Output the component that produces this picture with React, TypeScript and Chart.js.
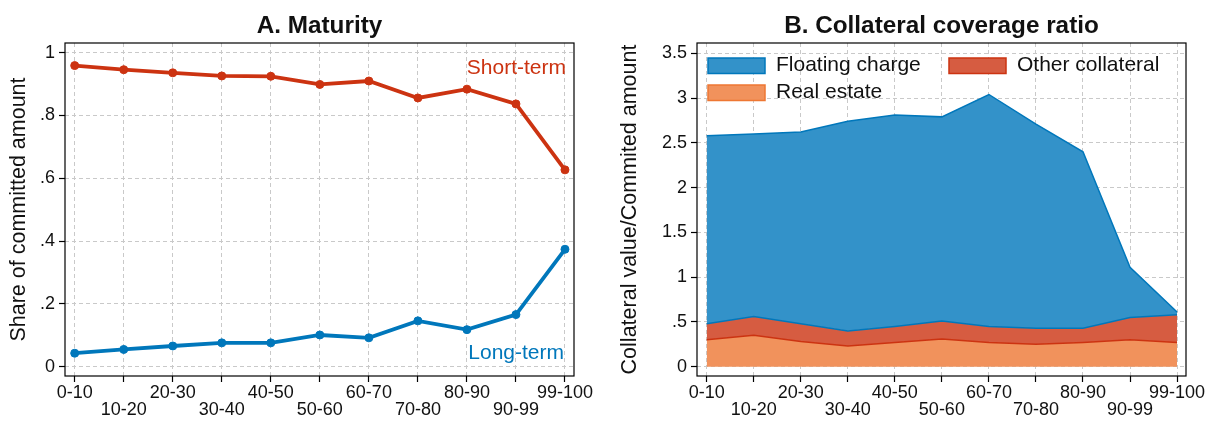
import React, { useEffect, useRef } from 'react';
import { Chart, registerables } from 'chart.js';

Chart.register(...registerables);

const FONT = '"Liberation Sans", Arial, Helvetica, sans-serif';
const TEXT = '#111111';
const GRID = '#c9c9c9';

const RED = '#CC3311';
const BLUE = '#0077BB';
const ORANGE = '#EE7733';
const BLUE_FILL = '#3392C9';
const RED_FILL = '#D65C41';
const ORANGE_FILL = '#F1925C';

// Percentile groups of firms (x axis of both panels)
const percentileGroups = ['0-10', '10-20', '20-30', '30-40', '40-50', '50-60', '60-70', '70-80', '80-90', '90-99', '99-100'];

// Panel A: share of committed amount by maturity
const shortTermShare = [0.959, 0.946, 0.936, 0.926, 0.925, 0.899, 0.91, 0.856, 0.884, 0.837, 0.627];
const longTermShare = [0.043, 0.055, 0.066, 0.076, 0.076, 0.101, 0.092, 0.146, 0.118, 0.166, 0.374];

// Panel B: collateral value / committed amount, by collateral type (stacked)
const realEstate = [0.3, 0.35, 0.28, 0.23, 0.27, 0.31, 0.27, 0.25, 0.27, 0.3, 0.27];
const otherCollateral = [0.18, 0.21, 0.2, 0.17, 0.18, 0.2, 0.18, 0.18, 0.16, 0.25, 0.31];
const floatingCharge = [2.1, 2.04, 2.14, 2.34, 2.36, 2.28, 2.59, 2.28, 1.97, 0.56, 0.03];

const shareTicks = [0, 0.2, 0.4, 0.6, 0.8, 1];
const coverageTicks = [0, 0.5, 1, 1.5, 2, 2.5, 3, 3.5];

const fmtTick = (v: number) => (v === 0 ? '0' : String(+v.toFixed(2)).replace(/^0\./, '.'));

// Alternate the group labels between two rows
const groupLabel = (v: number) => {
  const i = Math.round(v);
  const s = percentileGroups[i] ?? '';
  return i % 2 === 0 ? [s] : ['', s];
};

const gridOpts = {
  color: GRID,
  lineWidth: 1,
  borderDash: [4, 3],
  tickLength: 6,
  tickColor: '#000000',
  tickWidth: 1.2,
  tickBorderDash: [],
};

function makeXScale(min: number, max: number) {
  return {
    type: 'linear',
    min,
    max,
    afterBuildTicks: (s: any) => {
      s.ticks = percentileGroups.map((_, i) => ({ value: i }));
    },
    afterFit: (s: any) => {
      s.height = 45;
    },
    grid: gridOpts,
    border: { display: false, dash: [4, 3] },
    ticks: {
      autoSkip: false,
      maxRotation: 0,
      minRotation: 0,
      padding: 3,
      color: TEXT,
      font: { family: FONT, size: 18, lineHeight: '16.5px' },
      callback: (v: number) => groupLabel(v),
    },
  };
}

function makeYScale(min: number, max: number, ticks: number[], width: number, title: string, titlePad: number) {
  return {
    type: 'linear',
    min,
    max,
    afterBuildTicks: (s: any) => {
      s.ticks = ticks.map((v) => ({ value: v }));
    },
    afterFit: (s: any) => {
      s.width = width;
    },
    grid: gridOpts,
    border: { display: false, dash: [4, 3] },
    ticks: {
      padding: 4,
      color: TEXT,
      font: { family: FONT, size: 18 },
      callback: (v: number) => fmtTick(v),
    },
    title: {
      display: true,
      text: title,
      color: TEXT,
      font: { family: FONT, size: 21.5 },
      padding: { top: titlePad, bottom: 0 },
    },
  };
}

// Frame around the plot region and the panel title above it
function framePlugin(title: string) {
  return {
    id: 'frameAndTitle',
    afterDraw(chart: any) {
      const { ctx, chartArea } = chart;
      ctx.save();
      ctx.strokeStyle = '#000000';
      ctx.lineWidth = 1.2;
      ctx.setLineDash([]);
      ctx.strokeRect(chartArea.left, chartArea.top, chartArea.right - chartArea.left, chartArea.bottom - chartArea.top);
      ctx.fillStyle = TEXT;
      ctx.font = `bold 24.3px ${FONT}`;
      ctx.textAlign = 'center';
      ctx.textBaseline = 'alphabetic';
      ctx.fillText(title, (chartArea.left + chartArea.right) / 2, 32.7);
      ctx.restore();
    },
  };
}

// Series names written next to the lines in panel A
const seriesNamePlugin = {
  id: 'seriesNames',
  afterDraw(chart: any) {
    const { ctx, chartArea } = chart;
    ctx.save();
    ctx.font = `21px ${FONT}`;
    ctx.textAlign = 'right';
    ctx.textBaseline = 'alphabetic';
    ctx.fillStyle = RED;
    ctx.fillText('Short-term', chartArea.right - 8, chartArea.top + 31);
    ctx.fillStyle = BLUE;
    ctx.fillText('Long-term', chartArea.right - 10, chartArea.bottom - 17);
    ctx.restore();
  },
};

// Two-column legend inside panel B
const legendItems = [
  { text: 'Floating charge', fill: BLUE_FILL, edge: BLUE, col: 0, row: 0 },
  { text: 'Other collateral', fill: RED_FILL, edge: RED, col: 1, row: 0 },
  { text: 'Real estate', fill: ORANGE_FILL, edge: ORANGE, col: 0, row: 1 },
];

const areaLegendPlugin = {
  id: 'areaLegend',
  afterDraw(chart: any) {
    const { ctx, chartArea } = chart;
    ctx.save();
    ctx.font = `21px ${FONT}`;
    ctx.textAlign = 'left';
    ctx.textBaseline = 'middle';
    for (const it of legendItems) {
      const bx = chartArea.left + (it.col === 0 ? 11 : 252);
      const by = chartArea.top + (it.row === 0 ? 15 : 42);
      ctx.fillStyle = it.fill;
      ctx.fillRect(bx, by, 57, 15.5);
      ctx.strokeStyle = it.edge;
      ctx.lineWidth = 1.5;
      ctx.strokeRect(bx, by, 57, 15.5);
      ctx.fillStyle = TEXT;
      ctx.fillText(it.text, bx + 68, by + 7.3);
    }
    ctx.restore();
  },
};

function MaturityPanel() {
  const ref = useRef<HTMLCanvasElement | null>(null);
  useEffect(() => {
    if (!ref.current) return;
    const lineDs = (values: number[], color: string) => ({
      data: values.map((y, x) => ({ x, y })),
      borderColor: color,
      backgroundColor: color,
      borderWidth: 3.8,
      pointRadius: 4,
      pointBorderWidth: 1,
      pointBackgroundColor: color,
      pointBorderColor: color,
      tension: 0,
      fill: false,
    });
    const chart = new Chart(ref.current, {
      type: 'line',
      data: {
        datasets: [lineDs(shortTermShare, RED), lineDs(longTermShare, BLUE)],
      },
      options: {
        animation: false,
        responsive: false,
        devicePixelRatio: 1,
        events: [],
        layout: { padding: { top: 43, right: 32, left: 0, bottom: 0 } },
        plugins: { legend: { display: false }, tooltip: { enabled: false } },
        scales: {
          x: makeXScale(-0.198, 10.184),
          y: makeYScale(-0.0296, 1.031, shareTicks, 65, 'Share of committed amount', 6.3),
        } as any,
      },
      plugins: [framePlugin('A. Maturity'), seriesNamePlugin],
    });
    return () => chart.destroy();
  }, []);
  return <canvas ref={ref} width={606} height={421} style={{ position: 'absolute', left: 0, top: 0 }} />;
}

function CoveragePanel() {
  const ref = useRef<HTMLCanvasElement | null>(null);
  useEffect(() => {
    if (!ref.current) return;
    const otherTop = realEstate.map((v, i) => v + otherCollateral[i]);
    const totalTop = otherTop.map((v, i) => v + floatingCharge[i]);
    const areaDs = (label: string, values: number[], fillColor: string, edge: string, fill: any) => ({
      label,
      data: values.map((y, x) => ({ x, y })),
      borderColor: edge,
      backgroundColor: fillColor,
      borderWidth: 1.5,
      pointRadius: 0,
      tension: 0,
      fill,
    });
    const chart = new Chart(ref.current, {
      type: 'line',
      data: {
        datasets: [
          areaDs('Real estate', realEstate, ORANGE_FILL, RED, 'origin'),
          areaDs('Other collateral', otherTop, RED_FILL, BLUE, '-1'),
          areaDs('Floating charge', totalTop, BLUE_FILL, BLUE, '-1'),
        ],
      },
      options: {
        animation: false,
        responsive: false,
        devicePixelRatio: 1,
        events: [],
        layout: { padding: { top: 43, right: 26, left: 0, bottom: 0 } },
        plugins: { legend: { display: false }, tooltip: { enabled: false } },
        scales: {
          x: makeXScale(-0.206, 10.19),
          y: makeYScale(-0.104, 3.615, coverageTicks, 91, 'Collateral value/Commited amount', 11.6),
        } as any,
      },
      plugins: [framePlugin('B. Collateral coverage ratio'), areaLegendPlugin],
    });
    return () => chart.destroy();
  }, []);
  return <canvas ref={ref} width={606} height={421} style={{ position: 'absolute', left: 606, top: 0 }} />;
}

export default function App() {
  return (
    <div style={{ position: 'fixed', left: 0, top: 0, width: 1212, height: 421, background: '#ffffff' }}>
      <MaturityPanel />
      <CoveragePanel />
    </div>
  );
}
